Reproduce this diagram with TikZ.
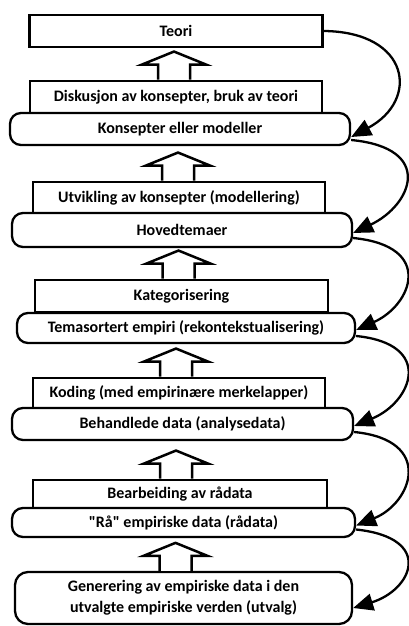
\documentclass[tikz,border=0pt]{standalone}
\usepackage{fontspec}
\setmainfont{Carlito}[Ligatures=TeXOff]
\usetikzlibrary{arrows.meta,calc}
\newcommand\blockup[2]{%
  \draw[blk] ([xshift=#2pt-16pt]#1.north) -- ++(0,-15) -- ++(-16,0) -- ++(32,-13) -- ++(32,13) -- ++(-16,0) -- ++(0,15);}
\begin{document}
\begin{tikzpicture}[x=1pt,y=-1pt,
  txt/.style={font=\fontsize{16}{21}\bfseries\selectfont, align=center},
  sq/.style={txt, draw, line width=2.9pt, fill=white, inner sep=0pt},
  rd/.style={txt, draw, line width=2.3pt, rounded corners=11pt, fill=white, inner sep=0pt},
  blk/.style={draw, line width=2.5pt, line join=miter, fill=white},
  conn/.style={line width=2.3pt, -{Triangle[length=20pt,width=17pt]}}]
\useasboundingbox (0,0) rectangle (409,626);
\node[sq, minimum width=293pt, minimum height=32pt] (teori) at (176,31) {Teori};
\node[sq, minimum width=292pt, minimum height=32pt] (disk) at (176,97) {Diskusjon av konsepter, bruk av teori};
\node[rd, minimum width=340pt, minimum height=32pt] (kons) at (180,129) {Konsepter eller modeller};
\node[sq, minimum width=292pt, minimum height=31pt] (utv) at (179,197.5) {Utvikling av konsepter (modellering)};
\node[rd, minimum width=340pt, minimum height=34pt] (hoved) at (182,230) {Hovedtemaer};
\node[sq, minimum width=293pt, minimum height=32pt] (kat) at (181.5,296) {Kategorisering};
\node[rd, minimum width=338pt, minimum height=30pt] (tema) at (186,328) {Temasortert empiri (rekontekstualisering)};
\node[sq, minimum width=292pt, minimum height=30pt] (kod) at (179,393) {Koding (med empirinære merkelapper)};
\node[rd, minimum width=341pt, minimum height=32pt] (beh) at (182.5,424) {Behandlede data (analysedata)};
\node[sq, minimum width=294pt, minimum height=28pt] (bear) at (180,494) {Bearbeiding av rådata};
\node[rd, minimum width=343pt, minimum height=29pt] (raa) at (183.5,522.5) {"Rå" empiriske data (rådata)};
\node[rd, minimum width=337pt, minimum height=52pt, rounded corners=13pt] (gen) at (183.5,598) {Generering av empiriske data i den\\utvalgte empiriske verden (utvalg)};
\blockup{disk}{-2}
\blockup{utv}{-1}
\blockup{kat}{-3}
\blockup{kod}{-3}
\blockup{bear}{-4}
\blockup{gen}{-8}
\draw[conn] (teori.east) .. controls (410,32) and (420,100) .. ([yshift=-8pt]kons.east);
\draw[conn] ([yshift=-11pt]kons.east) .. controls (435,148) and (412,205) .. ([yshift=-3pt]hoved.east);
\draw[conn] ([yshift=-8pt]hoved.east) .. controls (435,246) and (412,305) .. ([yshift=-2pt]tema.east);
\draw[conn] ([yshift=-8pt]tema.east) .. controls (435,344) and (412,402) .. ([yshift=-2pt]beh.east);
\draw[conn] ([yshift=-8pt]beh.east) .. controls (435,440) and (412,503) .. ([yshift=-3pt]raa.east);
\draw[conn] ([yshift=-7pt]raa.east) .. controls (435,538) and (412,590) .. ([yshift=-10pt]gen.east);
\end{tikzpicture}
\end{document}
